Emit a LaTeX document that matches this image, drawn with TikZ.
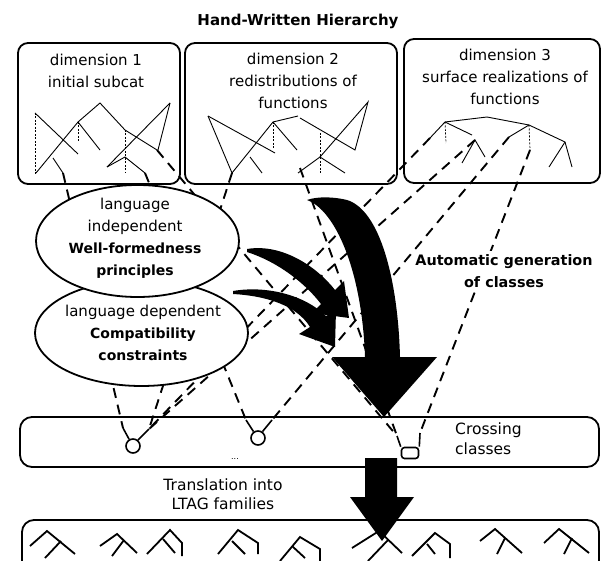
\documentclass[tikz,border=0pt]{standalone}
\usepackage{fontspec}
\setmainfont{DejaVu Sans}
\begin{document}
\begin{tikzpicture}[x=1pt,y=-1pt,
  frame/.style={line width=1.8pt, rounded corners=10pt},
  tree/.style={line width=0.9pt},
  dtree/.style={line width=0.7pt, dash pattern=on 2pt off 1.5pt},
  link/.style={line width=1.9pt, dash pattern=on 10pt off 7pt},
  btree/.style={line width=1.8pt},
  oval/.style={line width=1.8pt, fill=white},
  bigarrow/.style={fill=black},
  txt/.style={font=\fontsize{15}{22}\selectfont, align=center, inner sep=0pt},
  bold/.style={font=\fontsize{14}{22}\selectfont\bfseries, align=center, inner sep=0pt},
  cnode/.style={circle, draw, line width=1.6pt, minimum size=14pt, inner sep=0pt, fill=white},
  cbox/.style={rectangle, rounded corners=3pt, draw, line width=1.6pt, minimum width=17pt, minimum height=11pt, inner sep=0pt, fill=white},
  branch/.style={line width=1.6pt}
]
\useasboundingbox (0,0) rectangle (604,561);

% ---------- link end points ----------
\coordinate (a1) at (63,173);
\coordinate (a2) at (232,173);
\coordinate (a3) at (145,173);
\coordinate (a4) at (157,150);
\coordinate (b1) at (300,168);
\coordinate (c1) at (475,140);
\coordinate (c2) at (430,138);
\coordinate (c3) at (509,137);
\coordinate (c4) at (530,150);
\coordinate (n1l) at (123,428);
\coordinate (n1r) at (149,429);
\coordinate (n2l) at (246,420);
\coordinate (n2r) at (272,420);
\coordinate (n3l) at (397,436);
\coordinate (n3r) at (420,433);

% ---------- dashed links ----------
\draw[link] (a1) -- (n1l);
\draw[link] (a2) -- (n1r);
\draw[link] (c1) -- (n1r);
\draw[link] (c2) -- (n1r);
\draw[link] (a3) -- (n2l);
\draw[link] (c3) -- (n2r);
\draw[link] (b1) -- (n3l);
\draw[link] (c4) -- (n3r);
\draw[link] (a4) -- (n3l);

% ---------- ellipses ----------
\draw[oval] (141.5,333) ellipse [x radius=106.5, y radius=53];
\draw[oval] (137.5,241) ellipse [x radius=101.5, y radius=56];
\node[txt] (e1) at (135,238) {language\\independent\\{\fontsize{14}{22}\selectfont\bfseries Well-formedness}\\{\fontsize{14}{22}\selectfont\bfseries principles}};
\node[txt] (e2) at (143,333) {language dependent\\{\fontsize{14}{22}\selectfont\bfseries Compatibility}\\{\fontsize{14}{22}\selectfont\bfseries constraints}};

% ---------- big arrows ----------
\fill[bigarrow] (307,200) .. controls (335,210) and (362,270) .. (365,357) -- (332,357) -- (384,417) -- (437,357) -- (400,357) .. controls (398,280) and (380,210) .. (347,200) .. controls (335,197) and (318,196) .. (307,200) -- cycle;
\fill[bigarrow] (247,249) .. controls (283,243) and (318,268) .. (335,290) -- (344,281) -- (349,318) -- (312,313) -- (321,304) .. controls (305,283) and (278,262) .. (247,252) -- cycle;
\fill[bigarrow] (233,291) .. controls (268,285) and (306,296) .. (326,316) -- (336,310) -- (335,347) -- (299,334) -- (310,327) .. controls (297,306) and (268,296) .. (233,294) -- cycle;

% ---------- dimension boxes ----------
\draw[frame] (18,43) rectangle (180,184);
\draw[frame] (185,43) rectangle (397,184);
\draw[frame] (404,39) rectangle (600,183);

\node[bold, font=\fontsize{15}{18}\selectfont\bfseries] (title) at (298,21) {Hand-Written Hierarchy};
\node[txt] (d1) at (96,71) {dimension 1\\initial subcat};
\node[txt] (d2) at (293,81) {dimension 2\\redistributions of\\functions};
\node[txt] (d3) at (505,77) {dimension 3\\surface realizations of\\functions};

% trees in dimension 1
\draw[dtree] (35,113) -- (35,175);
\draw[tree] (35,113) -- (78,154);
\draw[tree] (36,173) -- (78,122) -- (100,103) -- (125,130) -- (157,150);
\draw[dtree] (78,122) -- (78,143);
\draw[tree] (78,122) -- (100,150);
\draw[tree] (53,158) -- (63,173);
\draw[tree] (170,103) -- (107,167);
\draw[tree] (170,103) -- (158,150);
\draw[dtree] (125,130) -- (125,173);
\draw[tree] (107,167) -- (125,157) -- (145,173);

% trees in dimension 2
\draw[tree] (208,116) -- (232,173) -- (273,122) -- (298,116);
\draw[tree] (208,116) -- (275,153);
\draw[dtree] (273,122) -- (273,148);
\draw[tree] (273,122) -- (297,150);
\draw[tree] (250,157) -- (262,173);
\draw[tree] (300,118) -- (355,150) -- (368,102) -- (320,157);
\draw[tree] (298,173) -- (320,157) -- (345,173);
\draw[dtree] (320,133) -- (320,173);

% trees in dimension 3
\draw[tree] (445,122) -- (487,117) -- (529,125) -- (565,142) -- (572,167);
\draw[tree] (565,142) -- (549,167);
\draw[tree] (445,122) -- (430,138);
\draw[dtree] (445,122) -- (446,143);
\draw[tree] (445,122) -- (472,135);
\draw[tree] (462,163) -- (475,140) -- (485,157);
\draw[dtree] (529,125) -- (530,150);
\draw[tree] (529,125) -- (509,137);

% ---------- Automatic generation label ----------
\node[bold, font=\fontsize{14.4}{22}\selectfont\bfseries, fill=white, inner sep=3pt] (auto) at (504,271) {Automatic generation\\of classes};

% ---------- crossing classes box ----------
\draw[frame, rounded corners=12pt] (20,417) rectangle (599,467);
\node[txt, anchor=west, align=left, font=\fontsize{15.5}{20}\selectfont] (cross) at (455,439) {Crossing\\classes};
\node[font=\fontsize{8}{8}\selectfont, inner sep=0pt] (dots) at (235,459) {...};

\node[cnode] (k1) at (133,446) {};
\draw[branch] (k1.120) -- (n1l);
\draw[branch] (k1.50) -- (n1r);
\node[cnode] (k2) at (258,438) {};
\draw[branch] (k2.125) -- (n2l);
\draw[branch] (k2.55) -- (n2r);
\node[cbox] (k3) at (410,453) {};
\draw[branch] (k3.north west) -- (n3l);
\draw[branch] (k3.north east) -- (n3r);

% ---------- translation label ----------
\node[txt, font=\fontsize{15.5}{19.5}\selectfont] (trans) at (223,494) {Translation into\\LTAG families};

% ---------- LTAG families box ----------
\draw[frame, rounded corners=12pt] (22,570) -- (22,520) -- (599,520) -- (599,570);

\draw[btree] (30,546) -- (47,531) -- (75,554);
\draw[btree] (61,541) -- (45,558);
\draw[btree] (100,546) -- (117,534) -- (137,553);
\draw[btree] (124,540) -- (112,556);
\draw[btree] (147,554) -- (170,530) -- (182,543) -- (182,556);
\draw[btree] (163,539) -- (175,553);
\draw[btree] (218,554) -- (238,530) -- (258,543) -- (258,554);
\draw[btree] (232,541) -- (245,554);
\draw[btree] (280,561) -- (300,537) -- (320,549) -- (320,561);
\draw[btree] (292,546) -- (305,558);
\draw[btree] (352,548) -- (379,531) -- (402,553);
\draw[btree] (388,540) -- (368,561);
\draw[btree] (412,556) -- (435,533) -- (450,544) -- (450,558);
\draw[btree] (427,544) -- (435,554);
\draw[btree] (480,541) -- (495,529) -- (522,553);
\draw[btree] (505,538) -- (497,554);
\draw[btree] (544,543) -- (559,529) -- (589,553);
\draw[btree] (572,538) -- (564,554);

% ---------- translation arrow ----------
\fill[bigarrow] (365,458) -- (365,497) -- (350,497) -- (382,541) -- (414,497) -- (397,497) -- (397,458) -- cycle;
\end{tikzpicture}
\end{document}
